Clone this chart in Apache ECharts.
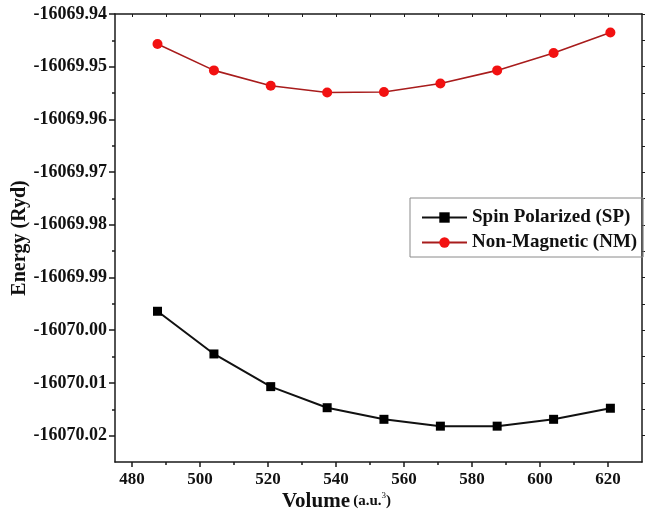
<!DOCTYPE html>
<html>
<head>
<meta charset="utf-8">
<script src="https://cdn.jsdelivr.net/npm/echarts@6/dist/echarts.min.js"></script>
<style>
  html, body { margin: 0; padding: 0; background: #fff; }
  #chart { width: 646px; height: 517px; }
</style>
</head>
<body>
<div id="chart"></div>
<script>
var volume = [487.5, 504.1, 520.8, 537.4, 554.1, 570.7, 587.4, 604.0, 620.7];
var spEnergy = [-16069.9964, -16070.0045, -16070.0107, -16070.0147, -16070.0169, -16070.0182, -16070.0182, -16070.0169, -16070.0148];
var nmEnergy = [-16069.9457, -16069.9507, -16069.9536, -16069.9549, -16069.9548, -16069.9532, -16069.9507, -16069.9474, -16069.9435];

var xMajor = [480, 500, 520, 540, 560, 580, 600, 620];
var xMinor = [490, 510, 530, 550, 570, 590, 610];
var yMajor = [-16070.02, -16070.01, -16070.00, -16069.99, -16069.98, -16069.97, -16069.96, -16069.95, -16069.94];
var yMinor = [-16070.015, -16070.005, -16069.995, -16069.985, -16069.975, -16069.965, -16069.955, -16069.945];

var seriesNames = ['Spin Polarized (SP)', 'Non-Magnetic (NM)'];

var font = '"Liberation Serif", "Times New Roman", serif';
var axisColor = '#1a1a1a';

function pairs(xs, ys) {
    return xs.map((x, i) => [x, ys[i]]);
}

var echart = echarts.init(document.getElementById('chart'));

var xRange = { min: 475, max: 630 };
var yRange = { min: -16070.025, max: -16069.94 };

var option = {
    animation: false,
    grid: { left: 115, right: 4, top: 14, bottom: 55, outerBoundsMode: 'none' },
    legend: {
        data: seriesNames,
        orient: 'vertical',
        left: 410,
        top: 198,
        padding: [10, 6, 5, 11],
        itemGap: 6,
        itemWidth: 45,
        itemHeight: 13,
        borderColor: '#8a8a8a',
        borderWidth: 1,
        textStyle: { fontFamily: font, fontWeight: 'bold', fontSize: 19, color: '#111' }
    },
    xAxis: [
        {
            type: 'value', position: 'bottom', min: xRange.min, max: xRange.max,
            name: '{a|Volume} {b|(a.u.}{s|3}{b|)}',
            nameLocation: 'middle',
            nameGap: 29,
            nameMoveOverlap: false,
            nameTextStyle: {
                padding: [0, 84, 0, 0],
                rich: {
                    a: { fontFamily: font, fontWeight: 'bold', fontSize: 21, color: '#111' },
                    b: { fontFamily: font, fontWeight: 'bold', fontSize: 15, color: '#111' },
                    s: { fontFamily: font, fontSize: 9, color: '#111', verticalAlign: 'top' }
                }
            },
            splitLine: { show: false },
            axisLine: { lineStyle: { color: axisColor, width: 1.5 } },
            axisTick: { length: 5, inside: false, customValues: xMajor, lineStyle: { color: axisColor, width: 1.5 } },
            axisLabel: {
                customValues: xMajor, margin: 9,
                fontFamily: font, fontWeight: 'bold', fontSize: 17, color: '#111'
            }
        },
        {
            type: 'value', position: 'bottom', min: xRange.min, max: xRange.max,
            splitLine: { show: false },
            axisLine: { show: false },
            axisTick: { length: 3, customValues: xMinor, lineStyle: { color: axisColor, width: 1.5 } },
            axisLabel: { show: false }
        },
        {
            type: 'value', position: 'top', min: xRange.min, max: xRange.max,
            splitLine: { show: false },
            axisLine: { lineStyle: { color: axisColor, width: 1.5 } },
            axisTick: { length: 3, inside: true, customValues: xMajor.concat(xMinor), lineStyle: { color: axisColor, width: 1 } },
            axisLabel: { show: false }
        }
    ],
    yAxis: [
        {
            type: 'value', position: 'left', min: yRange.min, max: yRange.max,
            name: 'Energy (Ryd)',
            nameLocation: 'middle',
            nameGap: 85,
            nameMoveOverlap: false,
            nameTextStyle: { fontFamily: font, fontWeight: 'bold', fontSize: 20, color: '#111' },
            splitLine: { show: false },
            axisLine: { lineStyle: { color: axisColor, width: 1.5 } },
            axisTick: { length: 6, customValues: yMajor, lineStyle: { color: axisColor, width: 1.5 } },
            axisLabel: {
                customValues: yMajor, margin: 8,
                formatter: v => v.toFixed(2),
                fontFamily: font, fontWeight: 'bold', fontSize: 18, color: '#111'
            }
        },
        {
            type: 'value', position: 'left', min: yRange.min, max: yRange.max,
            splitLine: { show: false },
            axisLine: { show: false },
            axisTick: { length: 3, customValues: yMinor, lineStyle: { color: axisColor, width: 1.5 } },
            axisLabel: { show: false }
        },
        {
            type: 'value', position: 'right', min: yRange.min, max: yRange.max,
            splitLine: { show: false },
            axisLine: { lineStyle: { color: axisColor, width: 1.5 } },
            axisTick: { length: 3, customValues: yMajor.concat(yMinor), lineStyle: { color: axisColor, width: 1 } },
            axisLabel: { show: false }
        }
    ],
    series: [
        {
            name: seriesNames[0],
            type: 'line',
            xAxisIndex: 0,
            yAxisIndex: 0,
            data: pairs(volume, spEnergy),
            symbol: 'rect',
            symbolSize: 9,
            itemStyle: { color: '#000' },
            lineStyle: { color: '#111', width: 2 }
        },
        {
            name: seriesNames[1],
            type: 'line',
            xAxisIndex: 0,
            yAxisIndex: 0,
            data: pairs(volume, nmEnergy),
            symbol: 'circle',
            symbolSize: 10,
            itemStyle: { color: '#f21111' },
            lineStyle: { color: '#a81c1c', width: 1.6 }
        }
    ]
};
echart.setOption(option);
</script>
</body>
</html>
